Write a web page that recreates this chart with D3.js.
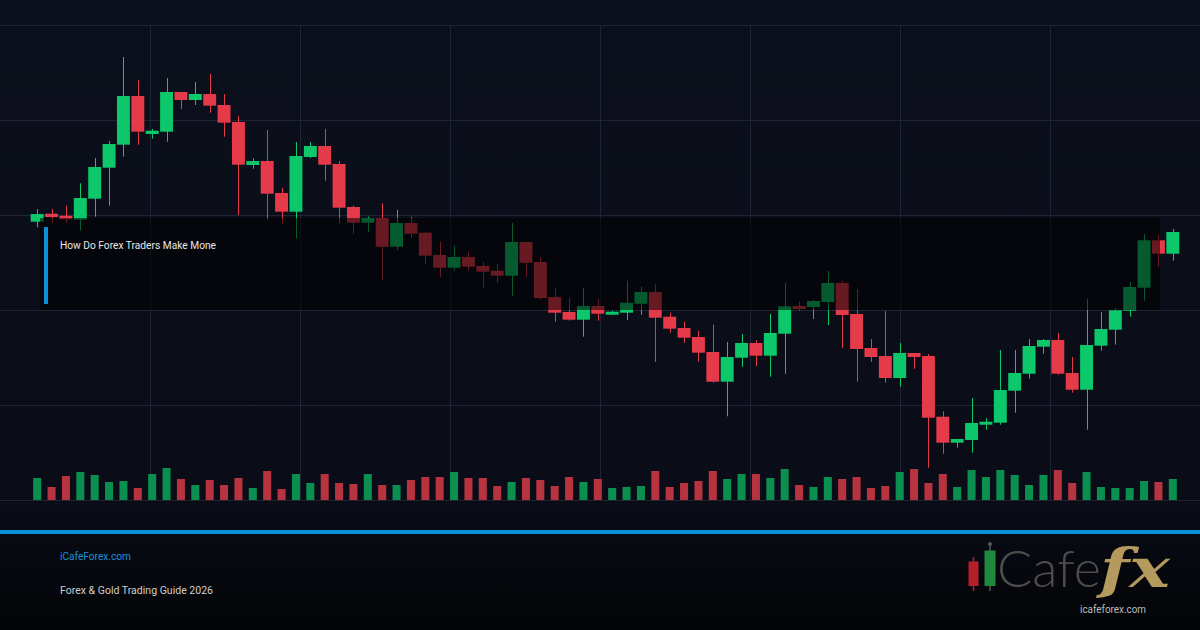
<!DOCTYPE html>
<html>
<head>
<meta charset="utf-8">
<script src="https://cdn.jsdelivr.net/npm/d3@7"></script>
<style>
  body { margin: 0; background: #0b0e18; }
  svg { display: block; }
</style>
</head>
<body>
<svg id="chart"></svg>
<script>
var w = 1200;
var h = 630;

// candle data
var opens = [2278.3, 2286.3, 2284.3, 2280.3, 2301.3, 2332.3, 2355.3, 2404, 2366, 2368.3,
  2408, 2400, 2406, 2395, 2378, 2335, 2339, 2307, 2288.3, 2343,
  2354, 2336, 2293, 2277.3, 2282, 2253.3, 2277, 2267.3, 2245, 2232.3,
  2243, 2234, 2229.3, 2224.3, 2258, 2238, 2203, 2188, 2180.3, 2194,
  2185.3, 2187.3, 2196.3, 2208, 2183.3, 2172, 2163, 2148, 2118.3, 2142.3,
  2157, 2144.3, 2166.3, 2194, 2193, 2198, 2217, 2186, 2152, 2144,
  2122, 2147, 2144, 2083.3, 2057.3, 2060, 2075.3, 2077.3, 2109.3, 2126.3,
  2153.3, 2160, 2127, 2110.3, 2154.3, 2170.3, 2189.3, 2212.3, 2259.7, 2246.3];
var highs = [2291, 2291, 2294.3, 2316.7, 2342, 2359, 2443, 2420, 2371, 2422,
  2408, 2418, 2426, 2406, 2384, 2341.7, 2370, 2312, 2358, 2358,
  2371, 2339, 2294.3, 2283.3, 2296.7, 2290, 2283.3, 2268, 2258.3, 2254,
  2248.3, 2237.7, 2236, 2277, 2258, 2243, 2212, 2202.3, 2212, 2201.3,
  2189.3, 2219.3, 2213.3, 2215.7, 2187.3, 2178.3, 2169.3, 2175.3, 2158, 2166,
  2160, 2186, 2217, 2198.3, 2200, 2229, 2219, 2211, 2161, 2189,
  2157, 2147, 2146, 2088.7, 2061, 2102, 2082, 2150, 2150, 2161,
  2161, 2167, 2143, 2201, 2188, 2192, 2218, 2266, 2265, 2271];
var lows = [2272.7, 2277.3, 2277.3, 2269.3, 2283.3, 2294.3, 2343.3, 2355.3, 2361.3, 2358.3,
  2391, 2395, 2387.3, 2363.3, 2285, 2331.3, 2280.3, 2276.3, 2261.3, 2342,
  2319.3, 2276.3, 2266.3, 2268.3, 2220.3, 2250, 2262.3, 2236.3, 2222.7, 2229.3,
  2229.3, 2212.3, 2217, 2204.3, 2223, 2200.3, 2178.3, 2179.3, 2163.3, 2179.3,
  2185, 2180, 2185.3, 2138, 2167.3, 2157.3, 2138.3, 2117.3, 2083.7, 2133.3,
  2134, 2123.3, 2126.3, 2189.3, 2181, 2175, 2152, 2118.3, 2138, 2117.3,
  2113.3, 2131.3, 2032.3, 2046.3, 2052.3, 2047.3, 2070.3, 2075.3, 2087.3, 2121.3,
  2146.3, 2125.3, 2107.3, 2070.3, 2149.3, 2155.3, 2183.3, 2199.3, 2233.3, 2239.3];
var closes = [2286, 2283, 2280.7, 2302, 2333, 2356, 2404, 2368.3, 2369.3, 2408,
  2400, 2406, 2394.3, 2377.3, 2335.3, 2339, 2306.3, 2288.3, 2344, 2354,
  2335.3, 2292.3, 2277.3, 2282, 2253.3, 2277, 2266.3, 2244.3, 2232.3, 2243,
  2233.3, 2228.3, 2224.3, 2258, 2237.3, 2202, 2187.3, 2180.3, 2194, 2186.3,
  2188.3, 2197.3, 2208, 2182.3, 2171.3, 2162.3, 2147.3, 2118.3, 2143, 2157,
  2144.3, 2167, 2193.7, 2191, 2199, 2217, 2185, 2151, 2143, 2122,
  2147, 2143, 2082.3, 2057.3, 2061, 2077, 2078.3, 2110, 2127, 2154,
  2160, 2126.3, 2110.3, 2155, 2171, 2189.7, 2213, 2259.7, 2246.3, 2268];
var volumes = [22, 13, 24, 28, 25, 18, 19, 12, 26, 32,
  21, 15, 20, 15, 22, 12, 29, 11, 26, 17,
  26, 17, 16, 26, 15, 15, 20, 23, 23, 28,
  22, 22, 14, 18, 22, 20, 14, 23, 18, 21,
  12, 13, 14, 29, 13, 17, 19, 29, 21, 26,
  26, 22, 31, 15, 13, 23, 21, 23, 12, 14,
  28, 31, 17, 26, 13, 30, 23, 30, 25, 15,
  25, 30, 17, 28, 13, 12, 12, 19, 18, 21];

var overlayTitle = "How Do Forex Traders Make Mone";
var siteName = "iCafeForex.com";
var subTitle = "Forex & Gold Trading Guide 2026";

var up = '#0cc86a';
var down = '#e43a4a';
var volUp = '#0b8f50';
var volDown = '#b7333f';

var svg = d3.select('#chart').attr('width', w).attr('height', h);

var defs = svg.append('defs');
var bg = defs.append('linearGradient').attr('id', 'bg').attr('x1', 0).attr('y1', 0).attr('x2', 0).attr('y2', 1);
bg.append('stop').attr('offset', '0%').attr('stop-color', '#0c101c');
bg.append('stop').attr('offset', '78%').attr('stop-color', '#0a0d17');
bg.append('stop').attr('offset', '86%').attr('stop-color', '#080a12');
bg.append('stop').attr('offset', '100%').attr('stop-color', '#030406');

svg.append('rect').attr('width', w).attr('height', h).attr('fill', 'url(#bg)');

var idx = d3.range(opens.length);

var x = d3.scaleBand()
  .domain(idx)
  .range([30, 1180])
  .paddingInner(0.1)
  .paddingOuter(0.05);

var y = d3.scaleLinear()
  .domain([2000, 2475])
  .range([500, 25]);

var v = d3.scaleLinear()
  .domain([0, 40])
  .range([500, 460]);

var gx = d3.scaleLinear().domain([0, 8]).range([0, w]);

// grid
var dom = y.domain();
var yGrid = d3.range(6).map(function (i) { return dom[0] + i * (dom[1] - dom[0]) / 5; });

var grid = svg.append('g').attr('stroke', '#1f2535').attr('stroke-width', 1);
grid.selectAll('line.h')
  .data(yGrid)
.enter().append('line')
  .attr('class', 'h')
  .attr('x1', 0).attr('x2', w)
  .attr('y1', function (d) { return Math.round(y(d)) + 0.5; })
  .attr('y2', function (d) { return Math.round(y(d)) + 0.5; });
grid.selectAll('line.v')
  .data(d3.range(1, 8))
.enter().append('line')
  .attr('class', 'v')
  .attr('x1', function (d) { return gx(d) + 0.5; })
  .attr('x2', function (d) { return gx(d) + 0.5; })
  .attr('y1', y(dom[1])).attr('y2', y(dom[0]));

function isUp(i) { return closes[i] >= opens[i]; }
function cx(i) { return Math.round(x(i) + x.bandwidth() / 2) + 0.5; }

// volume
var vw = x.bandwidth() * 0.62;
svg.append('g').selectAll('rect')
  .data(idx)
.enter().append('rect')
  .attr('x', function (i) { return x(i) + (x.bandwidth() - vw) / 2; })
  .attr('y', function (i) { return v(volumes[i]); })
  .attr('width', vw)
  .attr('height', function (i) { return v(0) - v(volumes[i]); })
  .attr('fill', function (i) { return isUp(i) ? volUp : volDown; });

// candles
var candles = svg.append('g').selectAll('g')
  .data(idx)
.enter().append('g');

candles.append('line')
  .attr('x1', cx).attr('x2', cx)
  .attr('y1', function (i) { return y(highs[i]); })
  .attr('y2', function (i) { return y(lows[i]); })
  .attr('stroke', function (i) { return isUp(i) ? up : down; })
  .attr('stroke-width', 1);

candles.append('rect')
  .attr('x', function (i) { return x(i); })
  .attr('y', function (i) { return y(Math.max(opens[i], closes[i])); })
  .attr('width', x.bandwidth())
  .attr('height', function (i) { return Math.max(1, Math.abs(y(opens[i]) - y(closes[i]))); })
  .attr('fill', function (i) { return isUp(i) ? up : down; });

// title overlay
svg.append('rect')
  .attr('x', 40).attr('y', 218).attr('width', 1120).attr('height', 92)
  .attr('fill', '#000').attr('fill-opacity', 0.55);
svg.append('rect')
  .attr('x', 44).attr('y', 227).attr('width', 4).attr('height', 77)
  .attr('fill', '#0d8fd6');
svg.append('text')
  .attr('x', 60).attr('y', 249)
  .attr('font-family', 'Roboto, sans-serif').attr('font-size', 11)
  .attr('textLength', 156).attr('lengthAdjust', 'spacingAndGlyphs')
  .attr('fill', '#e8e8e8')
  .text(overlayTitle);

// footer
svg.append('rect').attr('x', 0).attr('y', 530).attr('width', w).attr('height', 4).attr('fill', '#0a8fd6');

svg.append('text')
  .attr('x', 60).attr('y', 560)
  .attr('font-family', 'Roboto, sans-serif').attr('font-size', 11)
  .attr('textLength', 71).attr('lengthAdjust', 'spacingAndGlyphs')
  .attr('fill', '#1a8fd8')
  .text(siteName);
svg.append('text')
  .attr('x', 60).attr('y', 594)
  .attr('font-family', 'Roboto, sans-serif').attr('font-size', 11.5)
  .attr('textLength', 153).attr('lengthAdjust', 'spacingAndGlyphs')
  .attr('fill', '#cfcfcf')
  .text(subTitle);

// logo
var logo = svg.append('g');
logo.append('line').attr('x1', 973.5).attr('x2', 973.5).attr('y1', 557).attr('y2', 591).attr('stroke', '#a8222b').attr('stroke-width', 1.5);
logo.append('rect').attr('x', 968.5).attr('y', 561.5).attr('width', 10).attr('height', 24.5).attr('fill', '#b3202b');
logo.append('line').attr('x1', 990).attr('x2', 990).attr('y1', 544).attr('y2', 591).attr('stroke', '#555').attr('stroke-width', 1.5);
logo.append('circle').attr('cx', 990).attr('cy', 544).attr('r', 2).attr('fill', '#555');
logo.append('rect').attr('x', 984.5).attr('y', 550.5).attr('width', 11).attr('height', 35.5).attr('fill', '#1f8a3d');
logo.append('text')
  .attr('x', 997).attr('y', 587)
  .attr('font-family', 'Lato, sans-serif').attr('font-weight', 300).attr('font-size', 52)
  .attr('textLength', 104).attr('lengthAdjust', 'spacingAndGlyphs')
  .attr('fill', '#4d4d4d')
  .text('Cafe');
logo.append('text')
  .attr('x', 1100).attr('y', 587)
  .attr('font-family', '"DejaVu Serif", serif').attr('font-style', 'italic').attr('font-weight', 'bold').attr('font-size', 54)
  .attr('textLength', 70).attr('lengthAdjust', 'spacingAndGlyphs')
  .attr('fill', '#b59a5e')
  .text('fx');
logo.append('text')
  .attr('x', 1080).attr('y', 613)
  .attr('font-family', 'Roboto, sans-serif').attr('font-size', 10)
  .attr('textLength', 66).attr('lengthAdjust', 'spacingAndGlyphs')
  .attr('fill', '#bdbdbd')
  .text('icafeforex.com');
</script>
</body>
</html>
